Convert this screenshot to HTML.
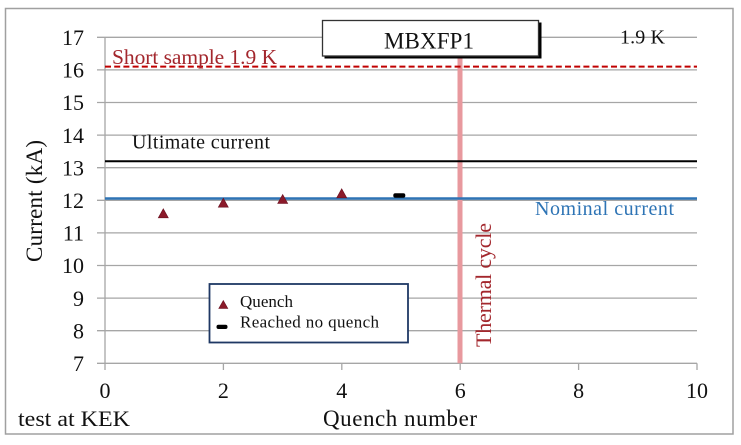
<!DOCTYPE html>
<html><head><meta charset="utf-8"><style>
html,body{margin:0;padding:0;background:#fff;}
svg{display:block;}
text{font-family:"Liberation Serif",serif;}
</style></head><body>
<svg width="741" height="445" viewBox="0 0 741 445" xmlns="http://www.w3.org/2000/svg">
<rect x="0" y="0" width="741" height="445" fill="#fff"/>
<rect x="5.5" y="8.5" width="727.5" height="425.5" fill="#fff" stroke="#a0a0a0" stroke-width="1.5"/>
<!-- gridlines -->
<g stroke="#a6a6a6" stroke-width="1.3">
<line x1="97" y1="37.3" x2="697" y2="37.3"/>
<line x1="97" y1="69.9" x2="697" y2="69.9"/>
<line x1="97" y1="102.5" x2="697" y2="102.5"/>
<line x1="97" y1="135.1" x2="697" y2="135.1"/>
<line x1="97" y1="167.7" x2="697" y2="167.7"/>
<line x1="97" y1="200.3" x2="697" y2="200.3"/>
<line x1="97" y1="232.9" x2="697" y2="232.9"/>
<line x1="97" y1="265.5" x2="697" y2="265.5"/>
<line x1="97" y1="298.1" x2="697" y2="298.1"/>
<line x1="97" y1="330.7" x2="697" y2="330.7"/>
<line x1="97" y1="363.3" x2="697" y2="363.3"/>
<line x1="105" y1="37.3" x2="105" y2="370"/>
<line x1="223.4" y1="363.3" x2="223.4" y2="370"/>
<line x1="341.8" y1="363.3" x2="341.8" y2="370"/>
<line x1="460.2" y1="363.3" x2="460.2" y2="370"/>
<line x1="578.6" y1="363.3" x2="578.6" y2="370"/>
<line x1="697" y1="363.3" x2="697" y2="370"/>
</g>
<!-- y tick labels -->
<g font-size="22" fill="#111" text-anchor="end">
<text x="84" y="45">17</text>
<text x="84" y="77.6">16</text>
<text x="84" y="110.2">15</text>
<text x="84" y="142.8">14</text>
<text x="84" y="175.4">13</text>
<text x="84" y="208">12</text>
<text x="84" y="240.6">11</text>
<text x="84" y="273.2">10</text>
<text x="84" y="305.8">9</text>
<text x="84" y="338.4">8</text>
<text x="84" y="371">7</text>
</g>
<!-- x tick labels -->
<g font-size="22" fill="#111" text-anchor="middle">
<text x="105" y="398">0</text>
<text x="223.4" y="398">2</text>
<text x="341.8" y="398">4</text>
<text x="460.2" y="398">6</text>
<text x="578.6" y="398">8</text>
<text x="697" y="398">10</text>
</g>
<text x="18" y="426" font-size="22" fill="#111" textLength="112" lengthAdjust="spacingAndGlyphs">test at KEK</text>
<text x="323" y="426" font-size="23" fill="#111" textLength="154" lengthAdjust="spacing">Quench number</text>
<text transform="translate(42,201) rotate(-90)" font-size="23" fill="#111" text-anchor="middle" textLength="122" lengthAdjust="spacing">Current (kA)</text>
<!-- thermal cycle line -->
<line x1="460" y1="56" x2="460" y2="363.3" stroke="#e8999e" stroke-width="5"/>
<text transform="translate(491,285) rotate(-90)" font-size="22" fill="#a3272d" text-anchor="middle" textLength="124" lengthAdjust="spacing">Thermal cycle</text>
<!-- reference lines -->
<line x1="105" y1="66.6" x2="697" y2="66.6" stroke="#c00000" stroke-width="2" stroke-dasharray="6,3.2"/>
<line x1="105" y1="161.2" x2="697" y2="161.2" stroke="#000" stroke-width="2"/>
<line x1="105" y1="198.5" x2="697" y2="198.5" stroke="#2e74b5" stroke-width="2.4"/>
<text x="112" y="64" font-size="21.5" fill="#a3272d" textLength="165" lengthAdjust="spacing">Short sample 1.9 K</text>
<text x="132" y="148.3" font-size="20" fill="#111" textLength="138" lengthAdjust="spacing">Ultimate  current</text>
<text x="535" y="215" font-size="20" fill="#2e74b5" textLength="139" lengthAdjust="spacing">Nominal  current</text>
<text x="620" y="43.3" font-size="20" fill="#111" textLength="45" lengthAdjust="spacing">1.9 K</text>
<!-- title box -->
<rect x="324.5" y="22.5" width="217" height="36" fill="#000"/>
<rect x="322.5" y="20.5" width="216" height="35.5" fill="#fff" stroke="#333" stroke-width="1.3"/>
<text x="384" y="48.3" font-size="23" fill="#111" textLength="90" lengthAdjust="spacing">MBXFP1</text>
<!-- data points -->
<g fill="#8b1a2a" stroke="#6a1020" stroke-width="0.6">
<polygon points="163.3,208.8 168.3,217.8 158.3,217.8"/>
<polygon points="223.3,198.2 228.3,207.2 218.3,207.2"/>
<polygon points="282.7,194.5 287.7,203.5 277.7,203.5"/>
<polygon points="341.7,188.8 346.7,197.8 336.7,197.8"/>
</g>
<rect x="393.3" y="193.3" width="12" height="4.4" rx="2" fill="#000"/>
<!-- legend -->
<rect x="209.5" y="284" width="198.5" height="58.5" fill="#fff" stroke="#1f3864" stroke-width="1.8"/>
<polygon points="223.3,300.5 227.8,308.5 218.8,308.5" fill="#8b1a2a" stroke="#6a1020" stroke-width="0.6"/>
<rect x="216.5" y="324.8" width="11" height="4.2" rx="2" fill="#000"/>
<text x="240" y="307" font-size="17" fill="#111" textLength="53" lengthAdjust="spacing">Quench</text>
<text x="240" y="327.3" font-size="17" fill="#111" textLength="139" lengthAdjust="spacing">Reached no quench</text>
</svg>
</body></html>
